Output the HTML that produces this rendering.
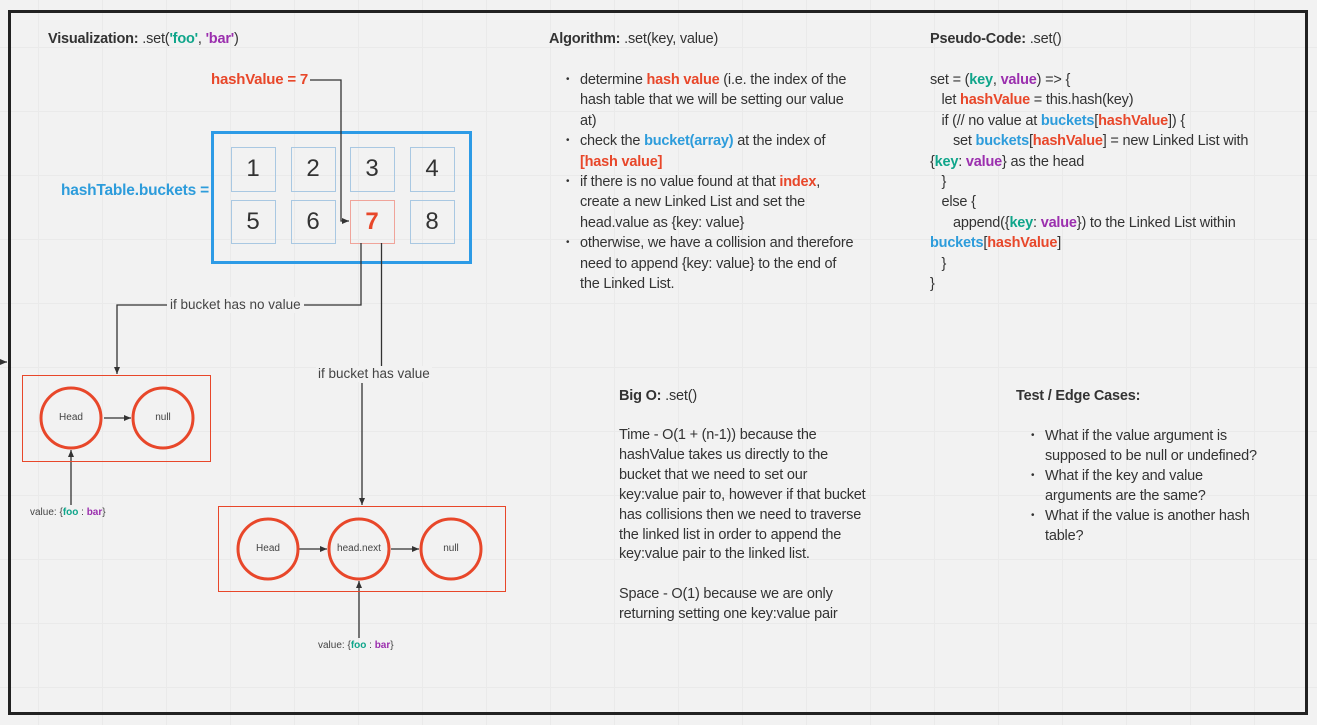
<!DOCTYPE html>
<html><head><meta charset="utf-8"><style>
*{margin:0;padding:0;box-sizing:border-box}
body{width:1317px;height:725px;overflow:hidden;background:#f2f2f2;font-family:"Liberation Sans",sans-serif;color:#333;position:relative}
.grid{position:absolute;left:0;top:0;width:1317px;height:725px;
background-image:linear-gradient(to right,#eaeaea 1px,transparent 1px),linear-gradient(to bottom,#eaeaea 1px,transparent 1px);
background-size:64px 64px;background-position:38px 47px}
.t{position:absolute;font-size:14.5px;line-height:20px;white-space:nowrap;letter-spacing:-0.2px}
b{font-weight:bold}
.r{color:#e8472a;font-weight:bold}.bl{color:#2d9cdb;font-weight:bold}.g{color:#0fa58a;font-weight:bold}.p{color:#9b2fae;font-weight:bold}
ul{list-style:none}
li{position:relative;padding-left:14px}
li:before{content:"•";position:absolute;left:0;font-size:10px}
svg{position:absolute;left:0;top:0}
.lbl{position:absolute;font-size:13.5px;white-space:nowrap;background:#f2f2f2;line-height:16px;color:#444}
.sm{position:absolute;font-size:10px;white-space:nowrap;color:#444}
.c{position:absolute;font-size:10px;color:#444;text-align:center;width:80px}
.d{position:absolute;font-size:24px;color:#333;width:44px;text-align:center;line-height:44px}
</style></head><body>
<div class="grid"></div>
<svg width="1317" height="725">
<defs><marker id="a" markerWidth="8" markerHeight="8" refX="7" refY="4" orient="auto" markerUnits="userSpaceOnUse"><path d="M0,1 L7,4 L0,7 z" fill="#333"/></marker></defs>
<rect x="9.5" y="11.5" width="1297" height="702" fill="none" stroke="#222" stroke-width="3"/>
<rect x="212.5" y="132.5" width="258" height="130" fill="none" stroke="#2d9be6" stroke-width="3"/>
<g fill="none" stroke="#a9c8e2" stroke-width="1">
<rect x="231.5" y="147.5" width="44" height="44"/><rect x="291.5" y="147.5" width="44" height="44"/><rect x="350.5" y="147.5" width="44" height="44"/><rect x="410.5" y="147.5" width="44" height="44"/>
<rect x="231.5" y="200.5" width="44" height="43"/><rect x="291.5" y="200.5" width="44" height="43"/><rect x="410.5" y="200.5" width="44" height="43"/>
</g>
<rect x="350.5" y="200.5" width="44" height="43" fill="none" stroke="#f0a49a" stroke-width="1"/>
<g fill="none" stroke="#333" stroke-width="1.3">
<path d="M310,80 H341 V221 H349" marker-end="url(#a)"/>
<path d="M361,243 V305 H117 V374" marker-end="url(#a)"/>
<path d="M381.5,243 V366"/>
<path d="M362,383 V505" marker-end="url(#a)"/>
<path d="M104,418 H131" marker-end="url(#a)"/>
<path d="M71,505 V450" marker-end="url(#a)"/>
<path d="M299,549 H327" marker-end="url(#a)"/>
<path d="M391,549 H419" marker-end="url(#a)"/>
<path d="M359,638 V581" marker-end="url(#a)"/>
<path d="M0,362 H7" marker-end="url(#a)"/>
</g>
<rect x="22.5" y="375.5" width="188" height="86" fill="none" stroke="#e8472a" stroke-width="1"/>
<rect x="218.5" y="506.5" width="287" height="85" fill="none" stroke="#e8472a" stroke-width="1"/>
<g fill="none" stroke="#e8472a" stroke-width="3">
<circle cx="71" cy="418" r="30"/><circle cx="163" cy="418" r="30"/>
<circle cx="268" cy="549" r="30"/><circle cx="359" cy="549" r="30"/><circle cx="451" cy="549" r="30"/>
</g>
</svg>
<div class="t" style="left:48px;top:29px"><b>Visualization:</b> .set(<span class="g">'foo'</span>, <span class="p">'bar'</span>)</div>
<div class="t r" style="left:211px;top:70px;font-size:15px">hashValue = 7</div>
<div class="t bl" style="left:61px;top:181px;font-size:15.5px">hashTable.buckets =</div>
<div class="d" style="left:231px;top:147px">1</div><div class="d" style="left:291px;top:147px">2</div><div class="d" style="left:350px;top:147px">3</div><div class="d" style="left:410px;top:147px">4</div>
<div class="d" style="left:231px;top:200px">5</div><div class="d" style="left:291px;top:200px">6</div><div class="d" style="left:350px;top:200px;color:#e8472a;font-weight:bold">7</div><div class="d" style="left:410px;top:200px">8</div>
<div class="lbl" style="left:167px;top:297px;padding:0 3px">if bucket has no value</div>
<div class="lbl" style="left:316px;top:366px;padding:0 2px">if bucket has value</div>
<div class="c" style="left:31px;top:412px">Head</div><div class="c" style="left:123px;top:412px">null</div>
<div class="c" style="left:228px;top:543px">Head</div><div class="c" style="left:319px;top:543px">head.next</div><div class="c" style="left:411px;top:543px">null</div>
<div class="sm" style="left:30px;top:507px">value: {<span class="g">foo</span> : <span class="p">bar</span>}</div>
<div class="sm" style="left:318px;top:640px">value: {<span class="g">foo</span> : <span class="p">bar</span>}</div>

<div class="t" style="left:549px;top:29px"><b>Algorithm:</b> .set(key, value)</div>
<ul class="t" style="left:566px;top:70px;line-height:20.4px">
<li>determine <span class="r">hash value</span> (i.e. the index of the<br>hash table that we will be setting our value<br>at)</li>
<li>check the <span class="bl">bucket(array)</span> at the index of<br><span class="r">[hash value]</span></li>
<li>if there is no value found at that <span class="r">index</span>,<br>create a new Linked List and set the<br>head.value as {key: value}</li>
<li>otherwise, we have a collision and therefore<br>need to append {key: value} to the end of<br>the Linked List.</li>
</ul>

<div class="t" style="left:930px;top:29px"><b>Pseudo-Code:</b> .set()</div>
<div class="t" style="left:930px;top:70px;line-height:20.4px">
set = (<span class="g">key</span>, <span class="p">value</span>) =&gt; {<br>
&nbsp;&nbsp;&nbsp;let <span class="r">hashValue</span> = this.hash(key)<br>
&nbsp;&nbsp;&nbsp;if (// no value at <span class="bl">buckets</span>[<span class="r">hashValue</span>]) {<br>
&nbsp;&nbsp;&nbsp;&nbsp;&nbsp;&nbsp;set <span class="bl">buckets</span>[<span class="r">hashValue</span>] = new Linked List with<br>
{<span class="g">key</span>: <span class="p">value</span>} as the head<br>
&nbsp;&nbsp;&nbsp;}<br>
&nbsp;&nbsp;&nbsp;else {<br>
&nbsp;&nbsp;&nbsp;&nbsp;&nbsp;&nbsp;append({<span class="g">key</span>: <span class="p">value</span>}) to the Linked List within<br>
<span class="bl">buckets</span>[<span class="r">hashValue</span>]<br>
&nbsp;&nbsp;&nbsp;}<br>
}</div>

<div class="t" style="left:619px;top:386px"><b>Big O:</b> .set()</div>
<div class="t" style="left:619px;top:426px;line-height:19.9px">
Time - O(1 + (n-1)) because the<br>hashValue takes us directly to the<br>bucket that we need to set our<br>key:value pair to, however if that bucket<br>has collisions then we need to traverse<br>the linked list in order to append the<br>key:value pair to the linked list.<br><br>Space - O(1) because we are only<br>returning setting one key:value pair</div>

<div class="t" style="left:1016px;top:386px"><b>Test / Edge Cases:</b></div>
<ul class="t" style="left:1031px;top:426px">
<li>What if the value argument is<br>supposed to be null or undefined?</li>
<li>What if the key and value<br>arguments are the same?</li>
<li>What if the value is another hash<br>table?</li>
</ul>
</body></html>
